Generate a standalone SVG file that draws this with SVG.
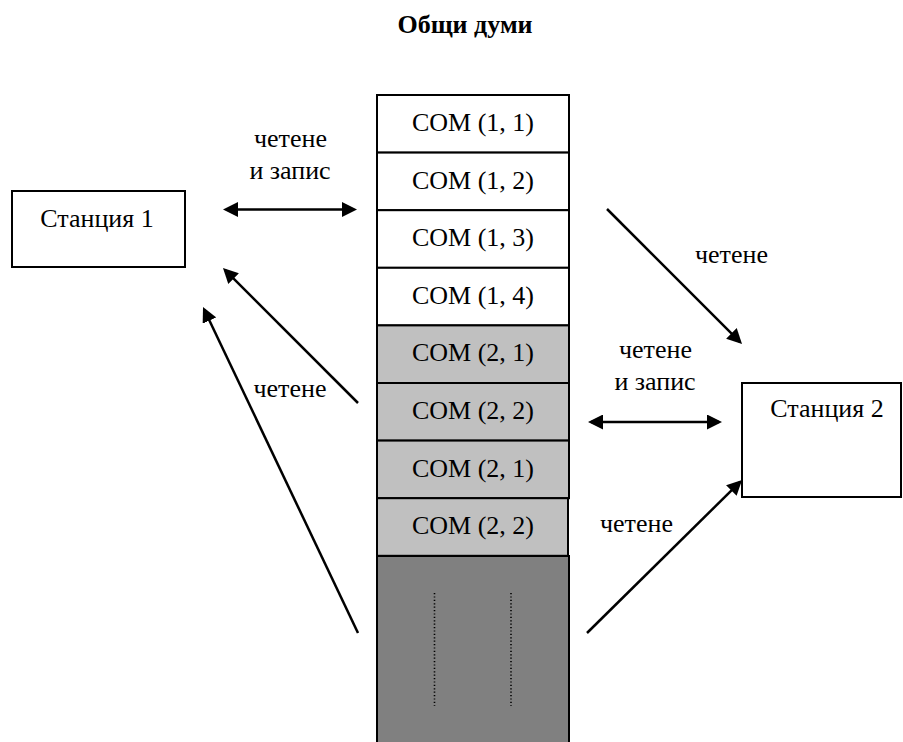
<svg xmlns="http://www.w3.org/2000/svg" width="903" height="742" viewBox="0 0 903 742" font-family="'Liberation Serif', serif">
<style>
  text { font-family: "Liberation Serif", serif; font-size: 26px; fill: #000; }
  .c { text-anchor: middle; }
  .title { font-weight: bold; }
  .box { fill: #fff; stroke: #000; stroke-width: 2; }
  .w { fill: #fff; stroke: #000; stroke-width: 2; }
  .g { fill: #c0c0c0; stroke: #000; stroke-width: 2; }
  .d { fill: #808080; stroke: #000; stroke-width: 2; }
  .dot { stroke: #000; stroke-width: 1.6; stroke-dasharray: 1.2 2.2; fill: none; }
  .arr { stroke: #000; stroke-width: 2.5; fill: none; marker-end: url(#ah); }
  .dbl { stroke: #000; stroke-width: 2.5; fill: none; marker-end: url(#ah); marker-start: url(#ah); }
</style>
<defs>
  <marker id="ah" markerUnits="userSpaceOnUse" markerWidth="15" markerHeight="15" viewBox="0 0 15 15" refX="12" refY="7.5" orient="auto-start-reverse">
    <path d="M0,0 L15,7.5 L0,15 z" fill="#000"/>
  </marker>
</defs>
<rect width="903" height="742" fill="#fff"/>
<text class="c title" x="465" y="33">Общи думи</text>

<g id="station1">
  <rect class="box" x="12" y="191" width="173" height="76"/>
  <text class="c" x="97" y="227">Станция 1</text>
</g>
<g id="station2">
  <rect class="box" x="742" y="383" width="159" height="114"/>
  <text class="c" x="827" y="417">Станция 2</text>
</g>

<g id="memory">
  <rect class="d" x="377" y="556" width="192" height="200"/>
  <line class="dot" x1="434.5" y1="593" x2="434.5" y2="706"/>
  <line class="dot" x1="511" y1="593" x2="511" y2="706"/>
  <g id="com11"><rect class="w" x="377" y="95" width="192" height="57.6"/><text class="c" x="473" y="131">COM (1, 1)</text></g>
  <g id="com12"><rect class="w" x="377" y="152.6" width="192" height="57.6"/><text class="c" x="473" y="188.6">COM (1, 2)</text></g>
  <g id="com13"><rect class="w" x="377" y="210.2" width="192" height="57.6"/><text class="c" x="473" y="246.2">COM (1, 3)</text></g>
  <g id="com14"><rect class="w" x="377" y="267.8" width="192" height="57.6"/><text class="c" x="473" y="303.8">COM (1, 4)</text></g>
  <g id="com21a"><rect class="g" x="377" y="325.4" width="192" height="57.6"/><text class="c" x="473" y="361.4">COM (2, 1)</text></g>
  <g id="com22a"><rect class="g" x="377" y="383" width="192" height="57.6"/><text class="c" x="473" y="419">COM (2, 2)</text></g>
  <g id="com21b"><rect class="g" x="377" y="440.6" width="192" height="57.6"/><text class="c" x="473" y="476.6">COM (2, 1)</text></g>
  <g id="com22b"><rect class="g" x="377" y="498.2" width="191" height="57.6"/><text class="c" x="473" y="534.2">COM (2, 2)</text></g>
</g>

<g id="connectors">
  <line class="dbl" x1="226" y1="209.5" x2="354" y2="209.5"/>
  <line class="dbl" x1="591" y1="422" x2="719" y2="422"/>
  <line class="arr" x1="607" y1="209" x2="739.9" y2="341.9"/>
  <line class="arr" x1="587" y1="633" x2="739.9" y2="482.1"/>
  <line class="arr" x1="358" y1="403" x2="225.1" y2="270.1"/>
  <line class="arr" x1="358" y1="633" x2="204.3" y2="309.7"/>
</g>

<g id="labels">
  <text class="c" x="290.5" y="147">четене</text>
  <text class="c" x="290" y="179">и запис</text>
  <text class="c" x="731.5" y="263">четене</text>
  <text class="c" x="655.5" y="358">четене</text>
  <text class="c" x="655" y="390">и запис</text>
  <text class="c" x="290" y="397">четене</text>
  <text class="c" x="636.5" y="532">четене</text>
</g>
</svg>
